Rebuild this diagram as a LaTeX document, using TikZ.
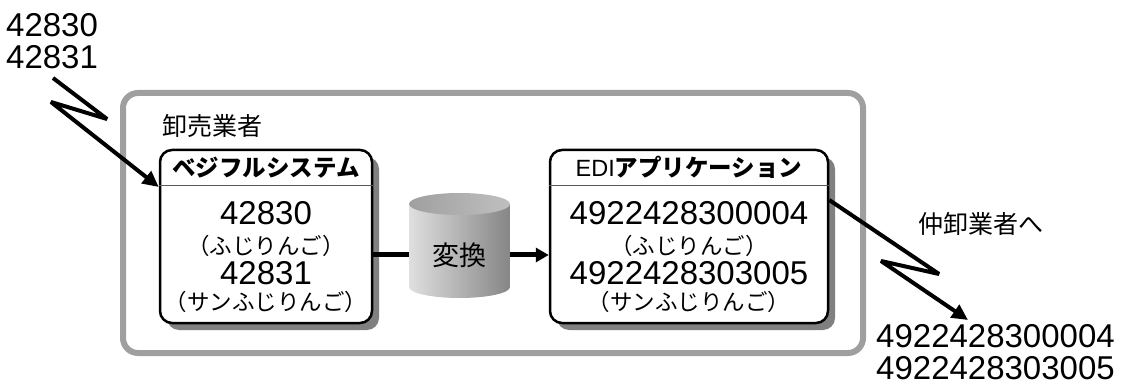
\documentclass[tikz,border=0pt]{standalone}
\usepackage{fontspec}
\setmainfont{Liberation Sans}
\newfontfamily\jp{Noto Sans CJK JP}
\usetikzlibrary{arrows.meta, shadows, calc, positioning}

\tikzset{
  sysbox/.style={draw, line width=2.5pt, fill=white, rounded corners=12pt,
    minimum height=173pt,
    drop shadow={shadow xshift=7pt, shadow yshift=-7pt, fill=gray, opacity=1}},
  divider/.style={line width=1pt, black!65},
  title/.style={font=\jp\bfseries\fontsize{23.5}{24}\selectfont},
  code/.style={font=\fontsize{33}{32.5}\selectfont},
  kana/.style={font=\jp\fontsize{22.5}{22.5}\selectfont},
  label/.style={font=\jp\fontsize{25}{25}\selectfont},
  zig/.style={line width=4pt, line join=bevel, -{Triangle[length=16pt,width=15pt]}},
  link/.style={line width=5pt},
}

\begin{document}
\begin{tikzpicture}[x=1pt,y=-1pt,every node/.style={inner sep=0pt}]
  \useasboundingbox (0,0) rectangle (1121,387);

  % wholesaler frame
  \draw[line width=6pt, gray!75, rounded corners=15pt] (123,93) rectangle (863,353);
  \node[label] (whole) at (212,126) {卸売業者};

  % vegetable system
  \node[sysbox, minimum width=212pt] (veg) at (266,236.5) {};
  \draw[divider] ($(veg.north west)+(0,37)$) -- ($(veg.north east)+(0,37)$);
  \node[title] (vegtitle) at ($(veg.north)+(0,19)$) {ベジフルシステム};
  \node[code] (vegA) at ($(veg.north)+(0,64)$) {42830};
  \node[kana] (vegB) at ($(veg.north)+(0,97)$) {（ふじりんご）};
  \node[code] (vegC) at ($(veg.north)+(0,124)$) {42831};
  \node[kana] (vegD) at ($(veg.north)+(0,153)$) {（サンふじりんご）};

  % EDI application
  \node[sysbox, minimum width=278pt] (edi) at (689,236.5) {};
  \draw[divider] ($(edi.north west)+(0,37)$) -- ($(edi.north east)+(0,37)$);
  \node[title] (edititle) at ($(edi.north)+(0,19)$) {{\mdseries\rmfamily EDI}アプリケーション};
  \node[code] (ediA) at ($(edi.north)+(0,64)$) {4922428300004};
  \node[kana] (ediB) at ($(edi.north)+(0,97)$) {（ふじりんご）};
  \node[code] (ediC) at ($(edi.north)+(0,124)$) {4922428303005};
  \node[kana] (ediD) at ($(edi.north)+(0,153)$) {（サンふじりんご）};

  % conversion cylinder
  \shade[left color=gray!25, right color=gray!95] (409,204) -- (409,287)
    arc[start angle=180, end angle=360, x radius=50.5pt, y radius=11pt] -- (510,204) -- cycle;
  \shade[left color=gray!75, right color=gray!50] (459.5,204) ellipse [x radius=50.5pt, y radius=11pt];
  \node[font=\jp\fontsize{27}{27}\selectfont, minimum width=101pt, minimum height=94pt] (conv) at (459.5,255) {変換};

  \draw[link] (conv.west -| veg.east) -- (conv.west);
  \draw[link, -{Triangle[length=13pt,width=14pt]}] (conv.east) -- (conv.east -| edi.west);

  % incoming codes
  \node[code, anchor=north west, align=left] (incodes) at (6,13) {42830\\42831};
  \coordinate (inbendA) at (107,119);
  \coordinate (inbendB) at (51,102);
  \draw[zig] (53,78) -- (inbendA) -- (inbendB) -- (veg.west |- 0,187);

  % outgoing codes
  \node[label] (toMid) at (981,224) {仲卸業者へ};
  \node[code, anchor=north west, align=left] (outcodes) at (876,324) {4922428300004\\4922428303005};
  \coordinate (outbendA) at (939,274);
  \coordinate (outbendB) at (881,261);
  \coordinate (outtip) at (968,320);
  \draw[zig] (edi.east |- 0,200) -- (outbendA) -- (outbendB) -- (outtip);
\end{tikzpicture}
\end{document}
